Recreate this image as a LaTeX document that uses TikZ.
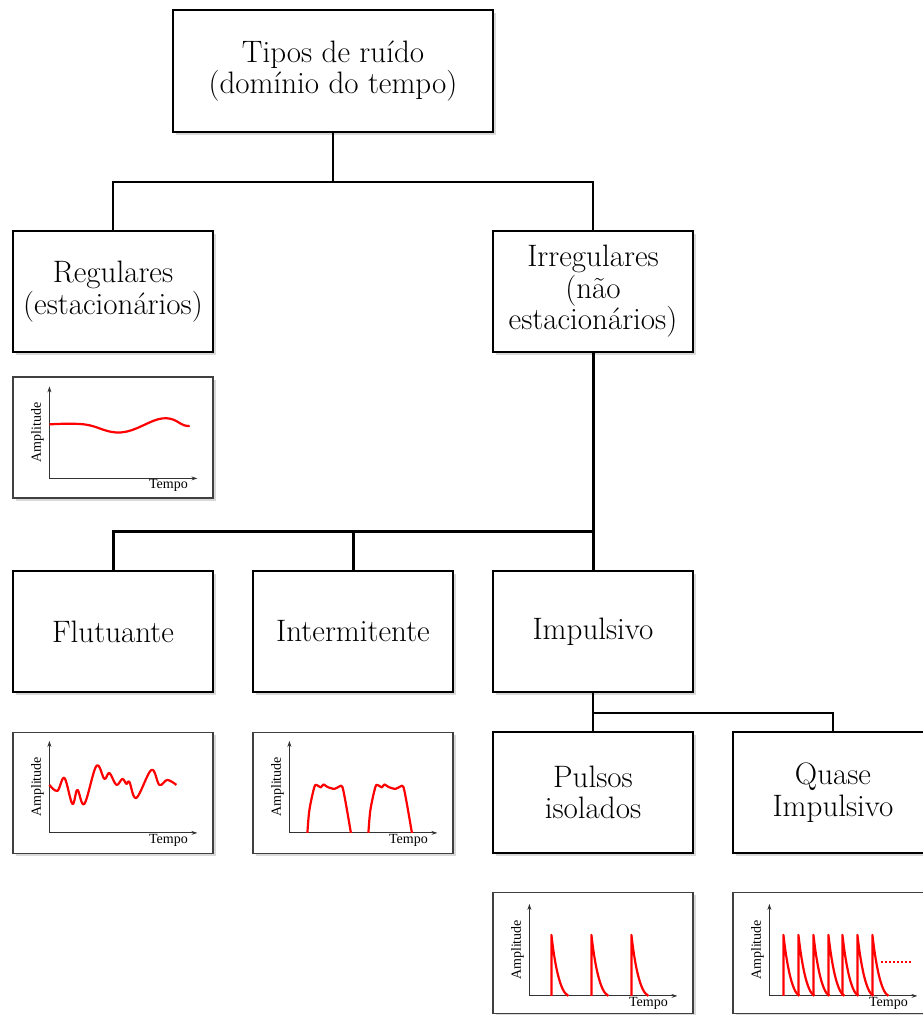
\documentclass[tikz,border=0pt]{standalone}
\usepackage{fontspec}
\newfontfamily\eixofont{Liberation Serif}
\usetikzlibrary{shadows,arrows.meta}

\tikzstyle{caixa} = [draw, line width=2pt, fill=white, minimum width=200pt, minimum height=121pt, align=center, inner sep=2pt, font=\fontsize{31}{31.5}\selectfont, drop shadow={shadow xshift=2.5pt, shadow yshift=-2.5pt, opacity=0.3}]
\tikzstyle{grafico} = [draw=black!75, line width=1.2pt, fill=white, minimum width=200pt, minimum height=121pt, inner sep=0pt, drop shadow={shadow xshift=2.5pt, shadow yshift=-2.5pt, opacity=0.3}]
\tikzstyle{ligacao} = [line width=1.6pt]
\tikzstyle{curva} = [red, line width=2.2pt, line join=round]
\tikzstyle{eixo} = [black!80, line width=0.9pt, {Stealth[length=6pt,width=4pt]}-{Stealth[length=6pt,width=4pt]}]
\tikzstyle{rotulo} = [inner sep=0pt, font=\eixofont\fontsize{14}{14}\selectfont]

% eixos de um grafico
\newcommand{\eixos}[1]{%
  \draw[eixo] (0,-92) |- (148,0);
  \node[rotulo, rotate=90] (#1-amp) at (-12,-46) {Amplitude};
  \node[rotulo] (#1-tempo) at (119,7) {Tempo};
}

\begin{document}
\begin{tikzpicture}[x=1pt, y=-1pt]
	\useasboundingbox (0,0) rectangle (923,1015);
	
	\node[caixa, minimum width=320pt, minimum height=122pt] (tipos) at (333,71) {Tipos de ruído\\(domínio do tempo)};
	\node[caixa] (regulares) at (113,291.5) {Regulares\\(estacionários)};
	\node[caixa] (irregulares) at (593,291.5) {Irregulares\\(não\\estacionários)};
	\node[caixa] (flutuante) at (113,631.5) {Flutuante};
	\node[caixa] (intermitente) at (353,631.5) {Intermitente};
	\node[caixa] (impulsivo) at (593,631.5) {Impulsivo};
	\node[caixa] (pulsos) at (593,792.5) {Pulsos\\isolados};
	\node[caixa] (quase) at (833,792.5) {Quase\\Impulsivo};
	
	% ligacoes
	\draw[ligacao] (tipos.south) -- ++(0,49) -| (regulares.north);
	\draw[ligacao] (tipos.south) -- ++(0,49) -| (irregulares.north);
	\coordinate (barra) at (593,531);
	\draw[ligacao, line width=3pt] (irregulares.south) -- (barra) -| (flutuante.north);
	\draw[ligacao, line width=3pt] (barra) -| (intermitente.north);
	\draw[ligacao, line width=3pt] (barra) -- (impulsivo.north);
	\draw[ligacao] (impulsivo.south) -- (pulsos.north);
	\draw[ligacao] (impulsivo.south) -- ++(0,20) -| (quase.north);
	
	% graficos
	\node[grafico] (g1) at (113,437.5) {};
	\node[grafico] (g2) at (113,793) {};
	\node[grafico] (g3) at (353,793) {};
	\node[grafico] (g4) at (593,953) {};
	\node[grafico] (g5) at (833,953) {};
	
	\begin{scope}[shift={(g1.north west)}, xshift=37pt, yshift=-102pt]
		\eixos{g1}
		\draw[curva] plot[smooth, tension=0.7] coordinates {(0,-54) (35,-54) (72,-46) (113,-60) (135,-53) (140,-53)};
	\end{scope}
	
	\begin{scope}[shift={(g2.north west)}, xshift=37pt, yshift=-101pt]
		\eixos{g2}
		\draw[curva] plot[smooth, tension=0.6] coordinates {(0,-48) (8,-42) (15,-55) (23,-29) (28,-43) (35,-29) (47,-67) (55,-54) (60,-60) (67,-48) (73,-54) (77,-49) (80,-51) (87,-35) (102,-63) (110,-48) (118,-53) (127,-48)};
	\end{scope}
	
	\begin{scope}[shift={(g3.north west)}, xshift=37pt, yshift=-101pt]
		\eixos{g3}
		\foreach \d in {0,61}
			\draw[curva, xshift=\d pt] plot[smooth, tension=0.5] coordinates {(18,0) (20,-23) (25,-46) (28,-47.5) (31.5,-45.5) (34,-48.5) (38,-46) (45,-44) (50,-46.5) (53,-46) (56.5,-29) (61.5,0)};
	\end{scope}
	
	\begin{scope}[shift={(g4.north west)}, xshift=37pt, yshift=-104pt]
		\eixos{g4}
		\foreach \t in {22,62,102}
			\draw[curva] (\t,0) -- (\t,-61) .. controls (\t+3,-35) and (\t+8,-4) .. (\t+17,0);
	\end{scope}
	
	\begin{scope}[shift={(g5.north west)}, xshift=37pt, yshift=-104pt]
		\eixos{g5}
		\foreach \t in {14,29,44,59,73,88,103}
			\draw[curva] (\t,0) -- (\t,-61) .. controls (\t+3,-35) and (\t+8,-4) .. (\t+16,0);
		\draw[red, line width=2.2pt, dash pattern=on 2pt off 2pt] (112,-34) -- (142,-34);
	\end{scope}
\end{tikzpicture}
\end{document}
